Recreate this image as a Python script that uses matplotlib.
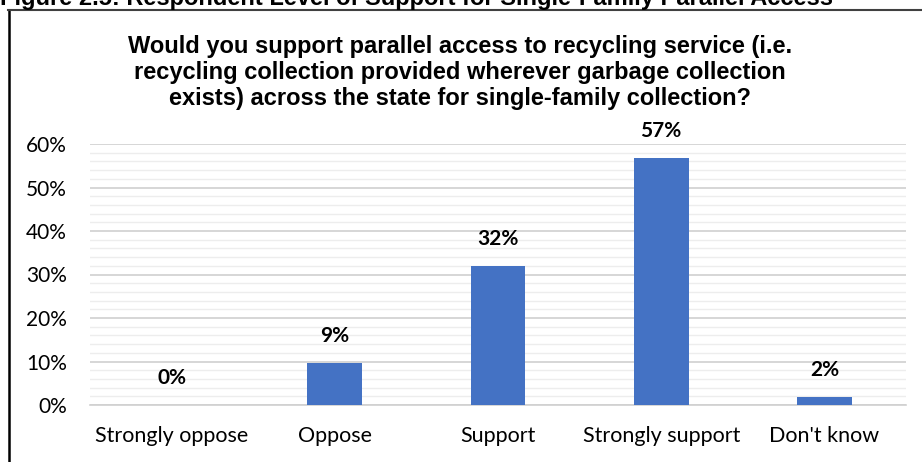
import matplotlib
matplotlib.use("Agg")
import matplotlib.pyplot as plt
from matplotlib.lines import Line2D
from matplotlib.ticker import MultipleLocator, FuncFormatter

categories = ["Strongly oppose", "Oppose", "Support", "Strongly support", "Don't know"]
values = [0, 9.6, 32, 56.7, 1.8]
labels = ["0%", "9%", "32%", "57%", "2%"]
title = ("Would you support parallel access to recycling service (i.e.\n"
         "recycling collection provided wherever garbage collection\n"
         "exists) across the state for single-family collection?")
caption = "Figure 2.5: Respondent Level of Support for Single-Family Parallel Access"

W, H = 922, 462
fig = plt.figure(figsize=(W / 100, H / 100), dpi=100)

def fx(px):
    return px / W

def fy(py):
    return 1 - py / H

ax = fig.add_axes([fx(90), fy(405), fx(906) - fx(90), fy(144) - fy(405)])
x = list(range(len(categories)))
ax.bar(x, values, width=0.337, color="#4472C4", zorder=3)
ax.set_xlim(-0.5, len(categories) - 0.5)
ax.set_ylim(0, 60)
ax.yaxis.set_major_locator(MultipleLocator(10))
ax.yaxis.set_minor_locator(MultipleLocator(2))
ax.yaxis.set_major_formatter(FuncFormatter(lambda v, p: f"{v:.0f}%"))
ax.grid(axis="y", which="major", color="#D0D0D0", linewidth=1.2, zorder=0)
ax.grid(axis="y", which="minor", color="#EDEDED", linewidth=1.0, zorder=0)
ax.set_axisbelow(True)
for s in ["top", "right", "left"]:
    ax.spines[s].set_visible(False)
ax.spines["bottom"].set_color("#D0D0D0")
ax.spines["bottom"].set_linewidth(1.2)
ax.tick_params(axis="both", which="both", length=0)
ax.tick_params(axis="y", pad=16.5)
ax.tick_params(axis="x", pad=15)
ax.set_xticks(x)
ax.set_xticklabels(categories, fontsize=15.5, family="Lato", color="#000000")
for t in ax.get_yticklabels():
    t.set_fontsize(15)
    t.set_family("Lato")
    t.set_color("#000000")

for xi, v, lab in zip(x, values, labels):
    ax.annotate(lab, (xi, v), xytext=(0, 17), textcoords="offset pixels",
                ha="center", va="bottom", fontsize=15, fontweight="bold",
                family="Lato", color="#000000")

fig.text(fx(460), fy(72.5), title, ha="center", va="center", fontsize=17,
         fontweight="bold", family="Liberation Sans", linespacing=1.16,
         color="#000000")

fig.text(fx(0), fy(5), caption, ha="left", va="baseline", fontsize=17,
         fontweight="bold", family="Liberation Sans", color="#000000")

fig.add_artist(Line2D([fx(9), fx(9)], [fy(10), fy(470)], color="#000000",
                      linewidth=1.8, transform=fig.transFigure))
fig.add_artist(Line2D([fx(8), fx(930)], [fy(10), fy(10)], color="#404040",
                      linewidth=1.5, transform=fig.transFigure))

fig.savefig("out.png", dpi=100)
